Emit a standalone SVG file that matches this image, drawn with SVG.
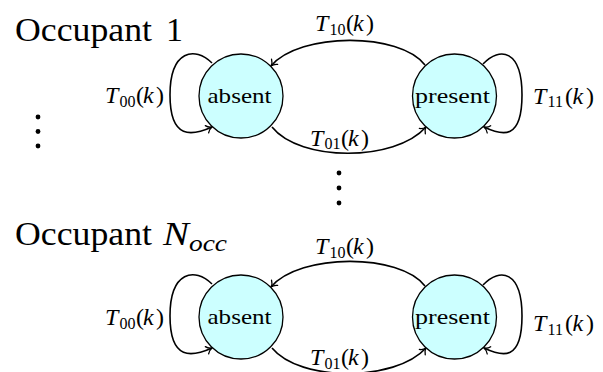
<svg xmlns="http://www.w3.org/2000/svg" width="603" height="372" viewBox="0 0 603 372">
<defs>
<style>
.st{fill:#ccffff;stroke:#000;stroke-width:1.3}
.e{fill:none;stroke:#000;stroke-width:1.6;marker-end:url(#arr)}
.node{font-size:22px}
.ttl{font-size:34px}
.lb{font-size:24px}
.it{font-style:italic}
.sub{font-size:16px}
</style>
<marker id="arr" viewBox="-7 -5 8 10" markerWidth="8" markerHeight="10" refX="0" refY="0" orient="auto" markerUnits="userSpaceOnUse">
<path d="M-5.5,-4 C-4,-1.5 -1.5,-0.4 0,0 C-1.5,0.4 -4,1.5 -5.5,4" fill="none" stroke="#000" stroke-width="1.3" stroke-linecap="round"/>
</marker>
</defs>
<rect width="603" height="372" fill="#fff"/>
<g font-family="'Liberation Serif', 'Times New Roman', serif" fill="#000">

<g id="title1"><text class="ttl" x="15" y="41" textLength="137" lengthAdjust="spacingAndGlyphs">Occupant</text><text class="ttl" x="166" y="41">1</text></g>
<g id="title2"><text class="ttl" x="15" y="245" textLength="137" lengthAdjust="spacingAndGlyphs">Occupant</text><text class="ttl it" x="163" y="245" textLength="26" lengthAdjust="spacingAndGlyphs">N</text><text class="it" x="189" y="250.5" font-size="24" textLength="38" lengthAdjust="spacingAndGlyphs">occ</text></g>

<g id="vdots-left"><circle cx="38" cy="117" r="2.4"/><circle cx="38" cy="131.5" r="2.4"/><circle cx="38" cy="146" r="2.4"/></g>
<g id="vdots-mid"><circle cx="339" cy="173" r="2.4"/><circle cx="339" cy="188" r="2.4"/><circle cx="339" cy="203" r="2.4"/></g>

<g id="connectors">
<path class="e" d="M 212,63 C 195,46 170,50 170,95 C 170,140 192,136 212,127"/>
<path class="e" d="M 483,64 C 500,46 522,50 522,95 C 522,140 503,136 484,127"/>
<path class="e" d="M 425,65 C 400,32 300,32 271,66"/>
<path class="e" d="M 272,127 C 300,162 395,162 426,127"/>
<path class="e" d="M 212,284 C 195,267 170,271 170,316 C 170,361 192,357 212,348"/>
<path class="e" d="M 483,285 C 500,267 522,271 522,316 C 522,361 503,357 484,348"/>
<path class="e" d="M 425,286 C 400,253 300,253 271,287"/>
<path class="e" d="M 272,348 C 300,382 395,382 426,348"/>
</g>

<g id="absent1"><circle class="st" cx="241" cy="96" r="42"/><text class="node" x="207.5" y="103" textLength="64" lengthAdjust="spacingAndGlyphs">absent</text></g>
<g id="present1"><circle class="st" cx="454.5" cy="96" r="42"/><text class="node" x="415" y="103" textLength="75" lengthAdjust="spacingAndGlyphs">present</text></g>
<g id="absent2"><circle class="st" cx="241" cy="317" r="42"/><text class="node" x="207.5" y="323.5" textLength="64" lengthAdjust="spacingAndGlyphs">absent</text></g>
<g id="present2"><circle class="st" cx="454.5" cy="317" r="42"/><text class="node" x="415" y="323.5" textLength="75" lengthAdjust="spacingAndGlyphs">present</text></g>

<g id="labels">
<text class="lb" y="103"><tspan class="it" x="105">T</tspan><tspan class="sub" x="119.5" y="106.5">00</tspan><tspan x="136" y="103">(</tspan><tspan class="it" x="143">k</tspan><tspan x="156">)</tspan></text>
<text class="lb" y="103.5"><tspan class="it" x="533">T</tspan><tspan class="sub" x="547.5" y="107">11</tspan><tspan x="565" y="103.5">(</tspan><tspan class="it" x="572.5">k</tspan><tspan x="586">)</tspan></text>
<text class="lb" y="31"><tspan class="it" x="315">T</tspan><tspan class="sub" x="329.5" y="34.5">10</tspan><tspan x="346" y="31">(</tspan><tspan class="it" x="353">k</tspan><tspan x="366">)</tspan></text>
<text class="lb" y="145.5"><tspan class="it" x="310">T</tspan><tspan class="sub" x="324.5" y="149">01</tspan><tspan x="341" y="145.5">(</tspan><tspan class="it" x="348">k</tspan><tspan x="361">)</tspan></text>

<text class="lb" y="325"><tspan class="it" x="105">T</tspan><tspan class="sub" x="119.5" y="328.5">00</tspan><tspan x="136" y="325">(</tspan><tspan class="it" x="143">k</tspan><tspan x="156">)</tspan></text>
<text class="lb" y="331"><tspan class="it" x="533">T</tspan><tspan class="sub" x="547.5" y="334.5">11</tspan><tspan x="565" y="331">(</tspan><tspan class="it" x="572.5">k</tspan><tspan x="586">)</tspan></text>
<text class="lb" y="254"><tspan class="it" x="315">T</tspan><tspan class="sub" x="329.5" y="257.5">10</tspan><tspan x="346" y="254">(</tspan><tspan class="it" x="353">k</tspan><tspan x="366">)</tspan></text>
<text class="lb" y="365"><tspan class="it" x="310">T</tspan><tspan class="sub" x="324.5" y="368.5">01</tspan><tspan x="341" y="365">(</tspan><tspan class="it" x="348">k</tspan><tspan x="361">)</tspan></text>
</g>
</g>
</svg>
